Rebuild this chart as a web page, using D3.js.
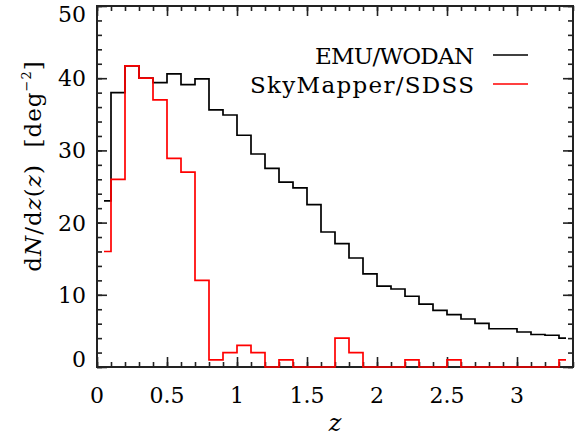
<!doctype html>
<html>
<head>
<meta charset="utf-8">
<style>
  body { margin: 0; background: #fff; }
  svg text { font-family: "DejaVu Serif", serif; fill: #000; }
  .axis path { display: none; }
  .axis line { stroke: #222; stroke-width: 1.6px; }
</style>
<script src="https://d3js.org/d3.v7.min.js"></script>
</head>
<body>
<svg id="chart" width="577" height="438"></svg>
<script>
// bin centres (IDL histogram style, steps half way between centres)
var zCenters = [0.05, 0.15, 0.25, 0.35, 0.45, 0.55, 0.65, 0.75, 0.85, 0.95,
                1.05, 1.15, 1.25, 1.35, 1.45, 1.55, 1.65, 1.75, 1.85, 1.95,
                2.05, 2.15, 2.25, 2.35, 2.45, 2.55, 2.65, 2.75, 2.85, 2.95,
                3.05, 3.15, 3.25, 3.35];

// EMU/WODAN
var emuValues = [23.0, 38.0, 41.7, 40.0, 39.4, 40.6, 39.1, 39.9, 35.6, 34.9,
                 32.1, 29.5, 27.5, 25.6, 24.8, 22.5, 18.7, 17.1, 15.1, 12.9,
                 11.2, 10.8, 9.8, 8.7, 7.85, 7.25, 6.65, 6.05, 5.3, 5.3,
                 4.85, 4.5, 4.4, 4.0];

// SkyMapper/SDSS
var skyValues = [16, 26, 41.7, 40, 37, 28.9, 27, 12, 1, 2,
                 3, 2, 0, 1, 0, 0, 0, 4, 2, 0,
                 0, 0, 1, 0, 0, 1, 0, 0, 0, 0,
                 0, 0, 0, 1];

var seriesNames = ["EMU/WODAN", "SkyMapper/SDSS"];
var seriesColors = ["#000000", "#ff0000"];

var xMajor = [0, 0.5, 1, 1.5, 2, 2.5, 3];
var yMajor = [0, 10, 20, 30, 40, 50];

var svg = d3.select("#chart"),
    marginLeft = 97, marginTop = 6,
    width = 476, height = 361;

var x = d3.scaleLinear().domain([0, 3.4]).range([0, width]);
var y = d3.scaleLinear().domain([0, 50]).range([height, 0]);

var g = svg.append("g").attr("transform", "translate(" + marginLeft + "," + marginTop + ")");

var xMinor = d3.range(0, 3.41, 0.1).map(function(d) { return Math.round(d * 10) / 10; });
var yMinor = d3.range(0, 51, 2);

// ticks point inwards on all four sides
function tickAxis(axisFn, scale, values, size, tx, ty) {
    g.append("g")
     .attr("class", "axis")
     .attr("transform", "translate(" + tx + "," + ty + ")")
     .call(axisFn(scale).tickValues(values).tickSizeInner(size).tickSizeOuter(0).tickFormat(""));
}
tickAxis(d3.axisBottom, x, xMinor, -5, 0, height);
tickAxis(d3.axisBottom, x, xMajor, -10, 0, height);
tickAxis(d3.axisTop, x, xMinor, -5, 0, 0);
tickAxis(d3.axisTop, x, xMajor, -10, 0, 0);
tickAxis(d3.axisLeft, y, yMinor, -5, 0, 0);
tickAxis(d3.axisLeft, y, yMajor, -10, 0, 0);
tickAxis(d3.axisRight, y, yMinor, -5, width, 0);
tickAxis(d3.axisRight, y, yMajor, -10, width, 0);

// tick labels
g.selectAll(".xlab")
 .data(xMajor)
 .enter().append("text")
 .attr("class", "xlab")
 .attr("x", function(d) { return x(d); })
 .attr("y", height + 36)
 .attr("text-anchor", "middle")
 .attr("font-size", "22px")
 .text(function(d) { return d; });

g.selectAll(".ylab")
 .data(yMajor)
 .enter().append("text")
 .attr("class", "ylab")
 .attr("x", -11)
 .attr("y", function(d) {
     var b = y(d) + 8;
     if (b < 16) b = 16;
     if (b > height) b = height;
     return b;
 })
 .attr("text-anchor", "end")
 .attr("font-size", "22px")
 .text(function(d) { return d; });

// frame
g.append("rect")
 .attr("width", width)
 .attr("height", height)
 .attr("fill", "none")
 .attr("stroke", "#222")
 .attr("stroke-width", 2);

// histograms
var line = d3.line()
    .x(function(d) { return x(d[0]); })
    .y(function(d) { return y(d[1]); })
    .curve(d3.curveStep);

[emuValues, skyValues].forEach(function(vals, i) {
    g.append("path")
     .datum(zCenters.map(function(z, j) { return [z, vals[j]]; }))
     .attr("fill", "none")
     .attr("stroke", seriesColors[i])
     .attr("stroke-width", 1.7)
     .attr("d", line);
});

// legend
var legend = svg.append("g");
seriesNames.forEach(function(name, i) {
    var ly = 55 + i * 29;
    legend.append("text")
          .attr("x", 474)
          .attr("y", ly + 8.5)
          .attr("text-anchor", "end")
          .attr("font-size", "23px")
          .attr("textLength", i == 0 ? 159 : 224)
          .attr("lengthAdjust", "spacing")
          .text(name);
    legend.append("line")
          .attr("x1", 493).attr("x2", 528)
          .attr("y1", ly).attr("y2", ly)
          .attr("stroke", seriesColors[i])
          .attr("stroke-width", 1.7);
});

// axis titles
svg.append("text")
   .attr("x", marginLeft + width / 2)
   .attr("y", 431)
   .attr("text-anchor", "middle")
   .attr("font-size", "24px")
   .attr("font-style", "italic")
   .text("z");

var yt = svg.append("text")
   .attr("transform", "translate(41,166) rotate(-90)")
   .attr("text-anchor", "middle")
   .attr("font-size", "23px")
   .attr("letter-spacing", "1px");
yt.append("tspan").text("d");
yt.append("tspan").attr("font-style", "italic").text("N");
yt.append("tspan").text("/d");
yt.append("tspan").attr("font-style", "italic").text("z");
yt.append("tspan").text("(");
yt.append("tspan").attr("font-style", "italic").text("z");
yt.append("tspan").text(")\u00a0\u00a0[deg");
yt.append("tspan").attr("font-size", "13px").attr("dy", -10).text("\u22122");
yt.append("tspan").attr("dy", 10).text("]");
</script>
</body>
</html>
